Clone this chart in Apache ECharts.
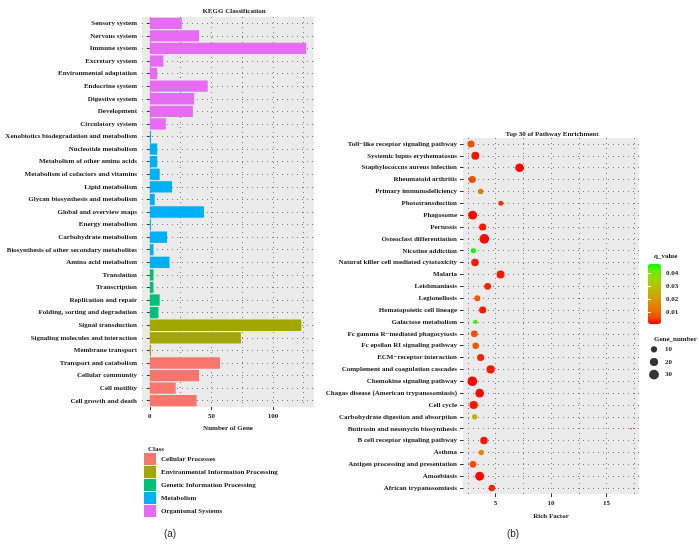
<!DOCTYPE html>
<html><head><meta charset="utf-8">
<script src="https://cdn.jsdelivr.net/npm/echarts@6/dist/echarts.min.js"></script>
<style>html,body{margin:0;padding:0;background:#fff}#c{width:699px;height:555px}</style>
</head><body><div id="c"></div>
<script>
// ---------- Panel (a): KEGG Classification ----------
const keggCategories = [
  'Sensory system','Nervous system','Immune system','Excretory system','Environmental adaptation',
  'Endocrine system','Digestive system','Development','Circulatory system',
  'Xenobiotics biodegradation and metabolism','Nucleotide metabolism','Metabolism of other amino acids',
  'Metabolism of cofactors and vitamins','Lipid metabolism','Glycan biosynthesis and metabolism',
  'Global and overview maps','Energy metabolism','Carbohydrate metabolism',
  'Biosynthesis of other secondary metabolites','Amino acid metabolism',
  'Translation','Transcription','Replication and repair','Folding, sorting and degradation',
  'Signal transduction','Signaling molecules and interaction','Membrane transport',
  'Transport and catabolism','Cellular community','Cell motility','Cell growth and death'
];
const keggCounts = [26,40,127,11,6,47,36,35,13, 1,6,6,8,18,4,44,1,14,3,16, 3,3,8,7, 123,74,1, 57,40,21,38];
const keggClass = [
  'Organismal Systems','Organismal Systems','Organismal Systems','Organismal Systems','Organismal Systems',
  'Organismal Systems','Organismal Systems','Organismal Systems','Organismal Systems',
  'Metabolism','Metabolism','Metabolism','Metabolism','Metabolism','Metabolism','Metabolism','Metabolism',
  'Metabolism','Metabolism','Metabolism',
  'Genetic Information Processing','Genetic Information Processing','Genetic Information Processing','Genetic Information Processing',
  'Environmental Information Processing','Environmental Information Processing','Environmental Information Processing',
  'Cellular Processes','Cellular Processes','Cellular Processes','Cellular Processes'
];
const classNames = ['Cellular Processes','Environmental Information Processing','Genetic Information Processing','Metabolism','Organismal Systems'];
const classColors = ['#F8766D','#A3A500','#00BF7D','#00B0F6','#E76BF3'];
const keggTicks = [0,50,100];
const keggMinorTicks = [25,75,125];

// ---------- Panel (b): Top 30 of Pathway Enrichment ----------
const pathways = [
  'Toll\u2212like receptor signaling pathway','Systemic lupus erythematosus','Staphylococcus aureus infection',
  'Rheumatoid arthritis','Primary immunodeficiency','Phototransduction','Phagosome','Pertussis',
  'Osteoclast differentiation','Nicotine addiction','Natural killer cell mediated cytotoxicity','Malaria',
  'Leishmaniasis','Legionellosis','Hematopoietic cell lineage','Galactose metabolism',
  'Fc gamma R\u2212mediated phagocytosis','Fc epsilon RI signaling pathway','ECM\u2212receptor interaction',
  'Complement and coagulation cascades','Chemokine signaling pathway','Chagas disease (American trypanosomiasis)',
  'Cell cycle','Carbohydrate digestion and absorption','Butirosin and neomycin biosynthesis',
  'B cell receptor signaling pathway','Asthma','Antigen processing and presentation','Amoebiasis',
  'African trypanosomiasis'
];
const richFactor = [2.79,3.18,7.16,2.91,3.66,5.48,2.94,3.84,3.99,3.00,3.15,5.45,4.29,3.36,3.84,3.18,3.09,3.21,3.66,4.56,2.91,3.57,3.03,3.12,17.2,3.96,3.72,2.97,3.57,4.67];
const geneNumber = [14,18,22,14,7,6,24,14,29,6,16,18,13,9,14,4,12,11,14,20,29,22,20,7,1,16,7,12,24,11];
const qValue = [0.006,0.002,0.0005,0.006,0.012,0.004,0.001,0.002,0.001,0.0476,0.002,0.002,0.003,0.007,0.002,0.044,0.006,0.007,0.003,0.002,0.001,0.001,0.002,0.024,0.003,0.002,0.017,0.006,0.001,0.003];
const richTicks = [5,10,15];
const richMinorTicks = [2.5,7.5,12.5,17.5];
const qTicks = [0.01,0.02,0.03,0.04];
const sizeLegend = [10,20,30];
const qColors = ['#FF0000','#F45300','#E87600','#DA9200','#C9AB00','#B3C200','#98D700','#70EB00','#00FF00'];

// ---------- helpers ----------
const FONT = '"Liberation Serif", "DejaVu Serif", serif';
const TXT = '#1a1a1a';
const gridDots = {show:true, lineStyle:{color:'#7a7a7a', width:1, type:[1,4]}};
function sizeOf(g){ return 1.7 + 1.5*Math.sqrt(Math.max(g-1,0)); }
function expand(arr){ const mn=Math.min(...arr), mx=Math.max(...arr), d=(mx-mn)*0.05; return [mn-d, mx+d]; }
const kMax = Math.max(...keggCounts);
const kRange = [-0.05*kMax, kMax*1.05];
const rRange = expand(richFactor);
const qMin = Math.min(...qValue), qMax = Math.max(...qValue);

const lbl = {fontFamily:FONT, fontWeight:'bold', fontSize:7, color:TXT};

const chart = echarts.init(document.getElementById('c'), null, {renderer:'canvas'});

const barSeries = classNames.map((cls, k) => ({
  type:'bar', name:cls, stack:'kegg', xAxisIndex:0, yAxisIndex:0,
  barCategoryGap:'10%',
  itemStyle:{color:classColors[k]},
  data: keggCounts.map((v,i) => keggClass[i]===cls ? v : '-')
}));

const option = {
  animation:false,
  backgroundColor:'#ffffff',
  title:[
    {text:'KEGG Classification', left:229, top:3, textAlign:'center', textStyle:lbl},
    {text:'Top 30 of Pathway Enrichment', left:547, top:126, textAlign:'center', textStyle:lbl},
    {text:'Class', left:143, top:441, textStyle:lbl},
    {text:'q_value', left:649, top:248, textStyle:lbl},
    {text:'Gene_number', left:649, top:331, textStyle:lbl},
    {text:'(a)', left:165, top:524, textAlign:'center', textStyle:{fontFamily:'"Liberation Sans", sans-serif', fontSize:10, fontWeight:'normal', color:'#222'}},
    {text:'(b)', left:508, top:524, textAlign:'center', textStyle:{fontFamily:'"Liberation Sans", sans-serif', fontSize:10, fontWeight:'normal', color:'#222'}}
  ],
  legend:{
    data:classNames, orient:'vertical', left:144, top:453, itemWidth:12, itemHeight:12, itemGap:1,
    icon:'rect', selectedMode:false, padding:0, textStyle:lbl
  },
  grid:[
    {left:142, top:17, width:172, height:390, show:true, backgroundColor:'#EBEBEB', borderWidth:0},
    {left:463, top:138, width:176, height:356, show:true, backgroundColor:'#EBEBEB', borderWidth:0},
    {left:648, top:264, width:13, height:60, show:false},
    {left:649, top:343, width:10, height:38, show:false}
  ],
  xAxis:[
    {type:'value', gridIndex:0, min:kRange[0], max:kRange[1],
     axisLine:{show:false}, axisTick:{show:true, customValues:keggTicks, length:3, lineStyle:{color:'#333'}},
     axisLabel:Object.assign({customValues:keggTicks, margin:6}, lbl),
     splitLine:gridDots, name:'Number of Gene', nameLocation:'middle', nameGap:18, nameTextStyle:lbl},
    {type:'value', gridIndex:0, min:kRange[0], max:kRange[1],
     axisLine:{show:false}, axisTick:{show:false, customValues:keggMinorTicks}, axisLabel:{show:false},
     splitLine:gridDots},
    {type:'value', gridIndex:1, min:rRange[0], max:rRange[1],
     axisLine:{show:false}, axisTick:{show:true, customValues:richTicks, length:3, lineStyle:{color:'#333'}},
     axisLabel:Object.assign({customValues:richTicks, margin:6}, lbl),
     splitLine:gridDots, name:'Rich Factor', nameLocation:'middle', nameGap:19, nameTextStyle:lbl},
    {type:'value', gridIndex:1, min:rRange[0], max:rRange[1],
     axisLine:{show:false}, axisTick:{show:false, customValues:richMinorTicks}, axisLabel:{show:false},
     splitLine:gridDots},
    {type:'value', gridIndex:2, show:false, min:0, max:1},
    {type:'value', gridIndex:3, show:false, min:-1, max:1}
  ],
  yAxis:[
    {type:'category', gridIndex:0, data:keggCategories, inverse:true,
     axisLine:{show:false}, axisTick:{show:true, alignWithLabel:true, interval:0, length:3, lineStyle:{color:'#333'}},
     axisLabel:Object.assign({interval:0, margin:5, overflow:'none'}, lbl),
     splitLine:Object.assign({alignWithLabel:true, interval:0}, gridDots)},
    {type:'category', gridIndex:1, data:pathways, inverse:true,
     axisLine:{show:false}, axisTick:{show:true, alignWithLabel:true, interval:0, length:3, lineStyle:{color:'#333'}},
     axisLabel:Object.assign({interval:0, margin:6, overflow:'none'}, lbl),
     splitLine:Object.assign({alignWithLabel:true, interval:0}, gridDots)},
    {type:'value', gridIndex:2, min:qMin, max:qMax, position:'right',
     axisLine:{show:false}, axisTick:{show:true, inside:true, length:3, customValues:qTicks, lineStyle:{color:'#fff'}},
     axisLabel:Object.assign({customValues:qTicks, margin:5, formatter:v=>v.toFixed(2)}, lbl),
     splitLine:{show:false}, z:10},
    {type:'value', gridIndex:2, min:qMin, max:qMax, position:'left',
     axisLine:{show:false}, axisTick:{show:true, inside:true, length:3, customValues:qTicks, lineStyle:{color:'#fff'}},
     axisLabel:{show:false}, splitLine:{show:false}, z:10},
    {type:'category', gridIndex:3, data:sizeLegend.map(String), inverse:true, position:'right',
     axisLine:{show:false}, axisTick:{show:false}, axisLabel:Object.assign({margin:6}, lbl), splitLine:{show:false}}
  ],
  visualMap:{
    type:'continuous', seriesIndex:5, dimension:3, min:qMin, max:qMax,
    left:648, top:264, itemWidth:13, itemHeight:60, padding:0, calculable:false, text:null,
    inRange:{color:qColors.slice()}, textStyle:lbl
  },
  series:[
    ...barSeries,
    {type:'scatter', name:'pathway', xAxisIndex:2, yAxisIndex:1,
     data: pathways.map((p,i)=>[richFactor[i], p, geneNumber[i], qValue[i]]),
     symbolSize: v => sizeOf(v[2]), itemStyle:{opacity:1}, z:5},
    {type:'scatter', name:'sizeLegend', xAxisIndex:5, yAxisIndex:4,
     data: sizeLegend.map(g=>[0, String(g), g]),
     symbolSize: v => sizeOf(v[2]), itemStyle:{color:'#000'}}
  ]
};
chart.setOption(option);
</script>
</body></html>
